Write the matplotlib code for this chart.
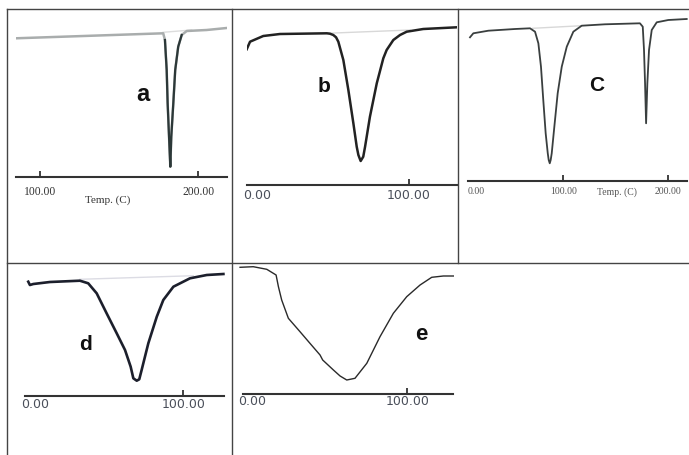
import numpy as np
import matplotlib
matplotlib.use('Agg')
import matplotlib.pyplot as plt
from matplotlib.lines import Line2D

# DSC traces (temperature in C, signal in arbitrary units above the axis)
a_temp = [84.4, 177.8, 178.9, 180.0, 180.6, 181.5, 182.3, 182.9, 184.2, 185.4, 187.3, 189.5, 192.7, 205.3, 218.0]
a_flow = [138.7, 143.7, 137.0, 107.0, 74.0, 40.0, 10.3, 40.0, 74.0, 107.0, 130.3, 142.0, 146.0, 147.0, 149.0]
a_base_temp = [177.7, 195.8]
a_base_flow = [144.7, 147.0]

b_temp = [-6.8, -4.6, 4.1, 15.1, 45.9, 48.0, 50.2, 52.0, 53.5, 56.8, 60.1, 63.4, 65.6, 66.7, 68.2, 69.9, 71.1, 74.3,
          78.8, 83.1, 85.3, 89.7, 94.1, 98.5, 109.4, 131.4]
b_flow = [135.7, 143.3, 149.0, 151.0, 151.7, 151.3, 150.0, 147.7, 143.3, 125.0, 95.0, 61.7, 38.3, 30.0, 24.0, 28.3,
          38.3, 68.3, 101.7, 126.7, 135.0, 145.0, 150.0, 153.3, 156.0, 157.7]
b_base_temp = [45.9, 100.7]
b_base_flow = [151.7, 155.0]

c_temp = [10.6, 13.8, 28.2, 53.7, 68.1, 72.9, 76.1, 78.6, 80.8, 83.1, 85.1, 86.0, 87.0, 87.9, 88.9, 91.4, 94.6, 98.5,
          103.3, 109.6, 117.6, 139.9, 173.4, 176.1, 177.3, 178.3, 179.3, 180.5, 182.1, 184.7, 189.5, 200.6, 218.2]
c_flow = [143.7, 147.7, 150.3, 152.0, 152.7, 149.3, 137.7, 114.3, 81.0, 47.7, 27.7, 21.0, 17.7, 21.0, 27.7, 54.3, 87.7,
          114.3, 134.3, 149.3, 155.3, 156.7, 157.7, 154.3, 131.0, 97.7, 57.7, 97.7, 131.0, 151.0, 158.7, 161.0, 162.0]
c_base_temp = [70.7, 117.6]
c_base_flow = [152.7, 155.3]

d_temp = [-4.5, -3.4, -1.1, 10.1, 30.3, 35.9, 41.6, 48.3, 55.1, 60.7, 64.5, 66.3, 68.6, 70.3, 71.9, 76.4, 82.1, 86.5,
          93.3, 104.5, 115.8, 127.0]
d_flow = [114.0, 110.7, 111.7, 113.7, 115.0, 112.4, 102.4, 82.4, 62.4, 45.7, 29.0, 17.4, 15.0, 16.4, 25.7, 52.4, 79.0,
          95.7, 109.0, 117.4, 120.7, 121.7]
d_base_temp = [30.3, 106.7]
d_base_flow = [116.4, 120.0]

e_temp = [-7.7, 0.8, 9.5, 15.5, 17.0, 19.1, 23.4, 30.9, 37.3, 43.8, 45.5, 52.4, 56.7, 61.0, 66.3, 73.9, 82.4, 91.0,
          99.6, 108.2, 115.7, 123.2, 129.6]
e_flow = [126.7, 127.3, 124.7, 119.0, 107.3, 94.0, 75.7, 62.3, 50.7, 39.0, 34.0, 24.0, 18.0, 14.0, 15.7, 30.7, 57.3,
          80.7, 97.3, 109.0, 116.7, 118.0, 118.0]

a_ticks = [100, 200]
a_ticklabels = ['100.00', '200.00']
b_ticks = [0, 100]
b_ticklabels = ['0.00', '100.00']
c_ticks = [8.4, 100, 200]
c_ticklabels = ['0.00', '100.00', '200.00']
d_ticks = [0, 100]
d_ticklabels = ['0.00', '100.00']
e_ticks = [0, 100]
e_ticklabels = ['0.00', '100.00']

W, H = 689, 455
fig = plt.figure(figsize=(W / 100, H / 100), dpi=100)


def fx(x):
    return x / W


def fy(y):
    return 1 - y / H


def make_panel(x0, x1, yax, ytop, xlim, ticks, labels, family, fsize, lcolor, pad, left_first=False):
    ax = fig.add_axes([fx(x0), fy(yax), (x1 - x0) / W, (yax - ytop) / H])
    ax.set_xlim(*xlim)
    ax.set_ylim(0, yax - ytop)
    ax.patch.set_alpha(0)
    for s in ['top', 'left', 'right']:
        ax.spines[s].set_visible(False)
    ax.spines['bottom'].set_linewidth(1.5)
    ax.spines['bottom'].set_color('#333333')
    ax.set_yticks([])
    ax.set_xticks(ticks, labels)
    ax.tick_params(axis='x', direction='in', length=4, width=1.3, color='#333333', pad=pad,
                   labelsize=fsize, labelcolor=lcolor)
    for lab in ax.get_xticklabels():
        lab.set_family(family)
    if left_first:
        ax.get_xticklabels()[0].set_horizontalalignment('left')
        ax.xaxis.get_major_ticks()[0].tick1line.set_visible(False)
    return ax


# a
ax = make_panel(15.7, 226.7, 177, 12, (84.4, 218.0), a_ticks, a_ticklabels, 'Liberation Serif', 8.4, '#333333', 6.2)
ax.plot(a_base_temp, a_base_flow, color='#dddddd', lw=1.0)
ax.plot(a_temp, a_flow, color='#a9adad', lw=1.8, solid_joinstyle='round')
ax.plot(a_temp[2:12], a_flow[2:12], color='#2c3838', lw=1.6, solid_joinstyle='round')
ax.text(142.5, -23, 'Temp. (C)', family='Liberation Serif', fontsize=8, color='#333333', ha='center', va='center')
ax.text(165, 82, 'a', family='Liberation Sans', fontweight='bold', fontsize=17, color='#111111',
        ha='center', va='center')

# b
ax = make_panel(246.7, 456.7, 185, 12, (-6.8, 131.4), b_ticks, b_ticklabels, 'DejaVu Sans', 9, '#4a4f5a', 3.1)
ax.xaxis.get_major_ticks()[0].tick1line.set_visible(False)
ax.plot(b_base_temp, b_base_flow, color='#d8d8d8', lw=1.0)
ax.plot(b_temp, b_flow, color='#222222', lw=1.8, solid_joinstyle='round')
ax.text(44, 98, 'b', family='Liberation Sans', fontweight='bold', fontsize=15, color='#111111',
        ha='center', va='center')

# c
ax = make_panel(467.7, 686.7, 181, 12, (8.4, 218.2), c_ticks, c_ticklabels, 'Liberation Serif', 7, '#555555', 4.0,
                left_first=True)
ax.plot(c_base_temp, c_base_flow, color='#d8d8d8', lw=1.0)
ax.plot(c_temp, c_flow, color='#3a3f3f', lw=1.3, solid_joinstyle='round', clip_on=False)
ax.text(151.1, -10.7, 'Temp. (C)', family='Liberation Serif', fontsize=7, color='#555555', ha='center', va='center')
ax.text(132, 95, 'C', family='Liberation Sans', fontweight='bold', fontsize=15, color='#111111',
        ha='center', va='center')

# d
ax = make_panel(25, 224, 395.7, 265, (-6.7, 127.4), d_ticks, d_ticklabels, 'DejaVu Sans', 9, '#4a4f5a', 1.4)
ax.xaxis.get_major_ticks()[0].tick1line.set_visible(False)
ax.plot(d_base_temp, d_base_flow, color='#dcdce4', lw=1.0)
ax.plot(d_temp, d_flow, color='#1c1f2c', lw=1.9, solid_joinstyle='round', clip_on=False)
ax.text(34.3, 50.7, 'd', family='Liberation Sans', fontweight='bold', fontsize=15, color='#111111',
        ha='center', va='center')

# e
ax = make_panel(242.7, 453.3, 394, 265, (-6.0, 129.6), e_ticks, e_ticklabels, 'DejaVu Sans', 9, '#4a4f5a', 0.8)
ax.xaxis.get_major_ticks()[0].tick1line.set_visible(False)
ax.plot(e_temp, e_flow, color='#2a2a2a', lw=1.0, solid_joinstyle='round', clip_on=False)
ax.text(108.7, 60, 'e', family='Liberation Sans', fontweight='bold', fontsize=16, color='#111111',
        ha='center', va='center')

# table frame around the panels
grid = [((7, 689), (9, 9)), ((7, 689), (263, 263)), ((7, 7), (9, 455)),
        ((232, 232), (9, 455)), ((458, 458), (9, 263))]
for xs, ys in grid:
    fig.add_artist(Line2D([fx(x) for x in xs], [fy(y) for y in ys], transform=fig.transFigure,
                          color='#444444', lw=1.0))

fig.savefig('out.png', dpi=100)
